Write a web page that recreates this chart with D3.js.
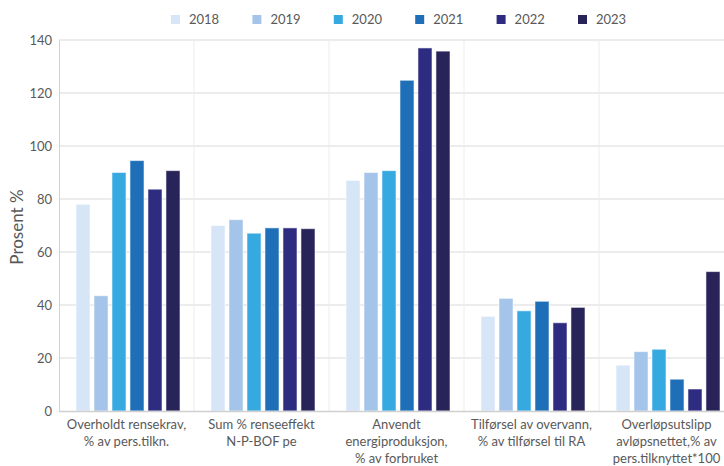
<!DOCTYPE html>
<html>
<head>
<meta charset="utf-8">
<script src="https://cdn.jsdelivr.net/npm/d3@7"></script>
<style>
  html, body { margin: 0; padding: 0; background: #fff; }
  svg { display: block; font-family: Lato, "Open Sans", sans-serif; }
</style>
</head>
<body>
<svg id="chart" width="724" height="466"></svg>
<script>
// Indicator categories (each label split into lines)
const categories = [
  ["Overholdt rensekrav,", "% av pers.tilkn."],
  ["Sum % renseeffekt", "N-P-BOF pe"],
  ["Anvendt", "energiproduksjon,", "% av forbruket"],
  ["Tilførsel av overvann,", "% av tilførsel til RA"],
  ["Overløpsutslipp", "avløpsnettet,% av", "pers.tilknyttet*100"]
];
const years = ["2018", "2019", "2020", "2021", "2022", "2023"];

// Values per year, in category order
const v2018 = [78, 70, 87, 35.7, 17.3];
const v2019 = [43.5, 72.2, 90, 42.5, 22.4];
const v2020 = [90, 67.1, 90.7, 37.8, 23.3];
const v2021 = [94.5, 69.1, 124.8, 41.4, 12];
const v2022 = [83.7, 69.1, 137, 33.3, 8.3];
const v2023 = [90.7, 68.8, 135.8, 39.1, 52.6];
const seriesValues = [v2018, v2019, v2020, v2021, v2022, v2023];

const yTicks = [0, 20, 40, 60, 80, 100, 120, 140];
const colors = ["#d6e6f7", "#a4c5e9", "#37a9e1", "#1f6fb8", "#2e2c81", "#282358"];

const svg = d3.select("#chart");
const plotLeft = 59, plotRight = 734, plotTop = 40, plotBottom = 411;

const x0 = d3.scaleBand().domain(d3.range(categories.length)).range([plotLeft, plotRight]).padding(0);
const x1 = d3.scaleBand().domain(years).range([17, 121]).paddingInner(0.22).paddingOuter(0);
const y = d3.scaleLinear().domain([0, 140]).range([plotBottom, plotTop]);

// Horizontal gridlines
svg.append("g")
  .selectAll("line")
  .data(yTicks.slice(1))
  .join("line")
  .attr("x1", plotLeft).attr("x2", 724)
  .attr("y1", d => y(d)).attr("y2", d => y(d))
  .attr("stroke", "#d9d9d9").attr("stroke-width", 1);

// Vertical separators between categories
svg.append("g")
  .selectAll("line")
  .data(d3.range(1, categories.length))
  .join("line")
  .attr("x1", d => x0(d)).attr("x2", d => x0(d))
  .attr("y1", plotTop).attr("y2", plotBottom)
  .attr("stroke", "#ececec").attr("stroke-width", 1);

// Y axis
const yAxis = svg.append("g")
  .attr("transform", `translate(${plotLeft},0)`)
  .call(d3.axisLeft(y).tickValues(yTicks).tickSize(0).tickPadding(7));
yAxis.select(".domain").attr("stroke", "#d0d0d0");
yAxis.selectAll("text").attr("fill", "#595959").style("font-size", "13px")
  .style("font-family", "Lato, sans-serif");

// Bars
const groups = svg.append("g")
  .selectAll("g")
  .data(categories.map((c, i) => i))
  .join("g")
  .attr("transform", i => `translate(${x0(i)},0)`);

groups.selectAll("rect")
  .data(i => years.map((yr, k) => ({ yr, k, v: seriesValues[k][i] })))
  .join("rect")
  .attr("x", d => x1(d.yr))
  .attr("width", x1.bandwidth())
  .attr("y", d => y(d.v))
  .attr("height", d => y(0) - y(d.v))
  .attr("fill", d => colors[d.k])
  .attr("stroke", "#ffffff").attr("stroke-opacity", 0.55).attr("stroke-width", 1);

// X baseline
svg.append("line")
  .attr("x1", plotLeft).attr("x2", 724)
  .attr("y1", y(0) + 0.5).attr("y2", y(0) + 0.5)
  .attr("stroke", "#d0d0d0").attr("stroke-width", 1.5);

// Category labels
const xl = svg.append("g");
categories.forEach((lines, i) => {
  const cx = x0(i) + x0.bandwidth() / 2;
  const t = xl.append("text")
    .attr("x", cx)
    .attr("y", 429)
    .attr("text-anchor", "middle")
    .attr("fill", "#595959")
    .style("font-size", "13px");
  lines.forEach((ln, j) => {
    t.append("tspan").attr("x", cx).attr("dy", j === 0 ? 0 : 17).text(ln);
  });
});

// Y axis title
svg.append("text")
  .attr("transform", "translate(23,227) rotate(-90)")
  .attr("text-anchor", "middle")
  .attr("fill", "#595959")
  .style("font-size", "17px")
  .text("Prosent %");

// Legend
const lg = svg.append("g").selectAll("g")
  .data(years)
  .join("g")
  .attr("transform", (d, i) => `translate(${171 + i * 81.4},15)`);
lg.append("rect").attr("width", 9).attr("height", 9).attr("fill", (d, i) => colors[i]);
lg.append("text").attr("x", 18).attr("y", 9).attr("fill", "#595959")
  .style("font-size", "13px").text(d => d);
</script>
</body>
</html>
